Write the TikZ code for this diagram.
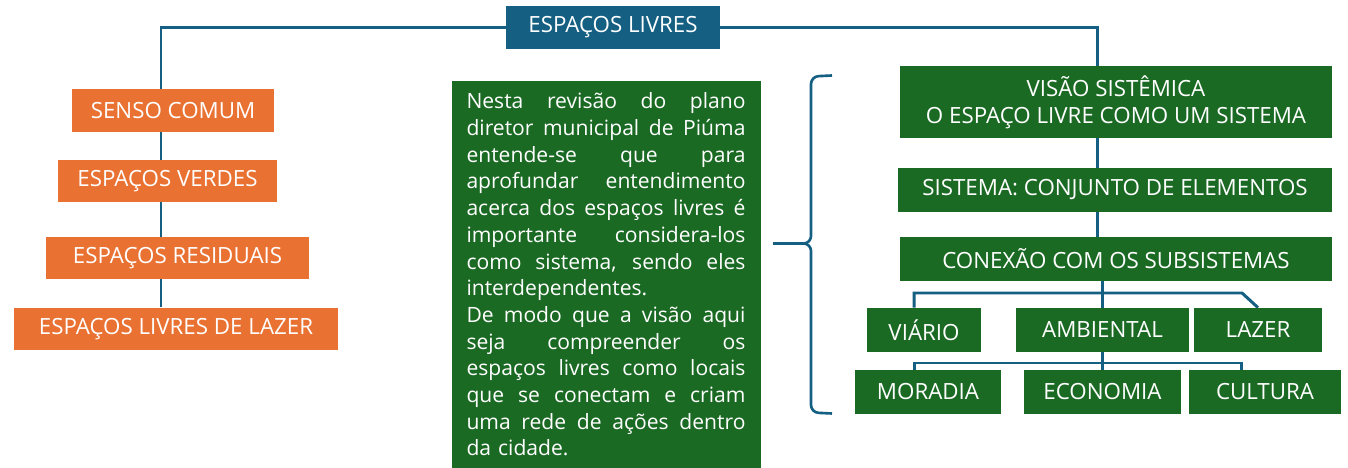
\documentclass[tikz,border=0pt]{standalone}
\usepackage{fontspec}
\setsansfont{Open Sans}
\usepackage{xcolor}
\usetikzlibrary{positioning,backgrounds}
\definecolor{livreblue}{RGB}{21,96,130}
\definecolor{sensoorange}{RGB}{233,113,50}
\definecolor{sistemagreen}{RGB}{27,106,36}
\newcommand{\jline}[1]{\hbox to 5.58cm{\spaceskip=0.3em plus 3em\relax #1}}

\begin{document}
\begin{tikzpicture}[font=\sffamily\fontsize{12.7}{15.5}\selectfont, text=white,
  obox/.style={rectangle, fill=sensoorange, minimum height=0.85cm, inner sep=0pt},
  gbox/.style={rectangle, fill=sistemagreen, minimum height=0.88cm, inner sep=0pt},
  link/.style={draw=livreblue, line width=1.7pt},
  bracket/.style={draw=livreblue, line width=1.5pt, rounded corners=0.15cm}]
        \useasboundingbox (0,0) rectangle (26.96,-9.36);
        % topo
        \node[rectangle, fill=livreblue, minimum width=4.28cm, minimum height=0.86cm] (livres) at (12.26,-0.55) {ESPAÇOS LIVRES};
        % coluna da esquerda
        \node[obox, minimum width=4.04cm] (senso) at (3.46,-2.21) {SENSO COMUM};
        \node[obox, minimum width=4.38cm] (verdes) at (3.35,-3.62) {ESPAÇOS VERDES};
        \node[obox, minimum width=5.26cm] (residuais) at (3.55,-5.16) {ESPAÇOS RESIDUAIS};
        \node[obox, minimum width=6.48cm] (lazerlivre) at (3.52,-6.58) {ESPAÇOS LIVRES DE LAZER};
        % texto central
        \node[rectangle, fill=sistemagreen, font=\sffamily\fontsize{12}{15.2}\selectfont, text width=5.58cm, inner xsep=0.3cm, inner ysep=0pt, minimum height=7.74cm, align=left] (nota) at (12.12,-5.49) {%
          \jline{Nesta revisão do plano}
          \jline{diretor municipal de Piúma}
          \jline{entende-se que para}
          \jline{aprofundar entendimento}
          \jline{acerca dos espaços livres é}
          \jline{importante considera-los}
          \jline{como sistema, sendo eles}
          \hbox{interdependentes.}
          \jline{De modo que a visão aqui}
          \jline{seja compreender os}
          \jline{espaços livres como locais}
          \jline{que se conectam e criam}
          \jline{uma rede de ações dentro}
          \hbox{da cidade.}};
        % coluna da direita
        \node[gbox, minimum height=1.44cm, minimum width=8.64cm, align=center] (visao) at (22.32,-2.04) {VISÃO SISTÊMICA\\O ESPAÇO LIVRE COMO UM SISTEMA};
        \node[gbox, minimum width=8.68cm] (sistema) at (22.30,-3.80) {SISTEMA: CONJUNTO DE ELEMENTOS};
        \node[gbox, minimum width=8.64cm] (conexao) at (22.32,-5.18) {CONEXÃO COM OS SUBSISTEMAS};
        \node[gbox, minimum width=2.28cm] (viario) at (18.48,-6.60) {VIÁRIO};
        \node[gbox, minimum width=3.46cm] (ambiental) at (22.05,-6.60) {AMBIENTAL};
        \node[gbox, minimum width=2.56cm] (lazer) at (25.16,-6.60) {LAZER};
        \node[gbox, minimum width=2.92cm] (moradia) at (18.56,-7.84) {MORADIA};
        \node[gbox, minimum width=3.14cm] (economia) at (22.05,-7.84) {ECONOMIA};
        \node[gbox, minimum width=3.04cm] (cultura) at (25.30,-7.84) {CULTURA};
        \coordinate (topleft) at (3.22,-0.55);
        \coordinate (topright) at (21.94,-0.55);
        \coordinate (ramo) at (18.28,-5.86);
        \coordinate (ramob) at (18.28,-7.26);
        \begin{scope}[on background layer]
          \draw[link] (lazerlivre.north -| topleft) -- (topleft) -- (livres.west);
          \draw[link] (livres.east) -- (topright) -- (topright |- conexao.north);
          \draw[link] (ambiental.north |- conexao.south) -- (ambiental.north);
          \draw[link] (viario.north -| ramo) -- (ramo) -- ++(6.56,0) -- (lazer.north);
          \draw[link] (ambiental.south) -- (economia.north);
          \draw[link] (moradia.north -| ramob) -- (ramob) -- ++(6.54,0) coordinate (ramoc) -- (ramoc |- cultura.north);
        \end{scope}
        % chave
        \draw[bracket] (16.64,-1.51) -- (16.22,-1.53) -- (16.22,-4.87) -- (15.46,-4.87);
        \draw[bracket] (16.64,-8.27) -- (16.22,-8.25) -- (16.22,-4.87) -- (15.46,-4.87);
\end{tikzpicture}
\end{document}
